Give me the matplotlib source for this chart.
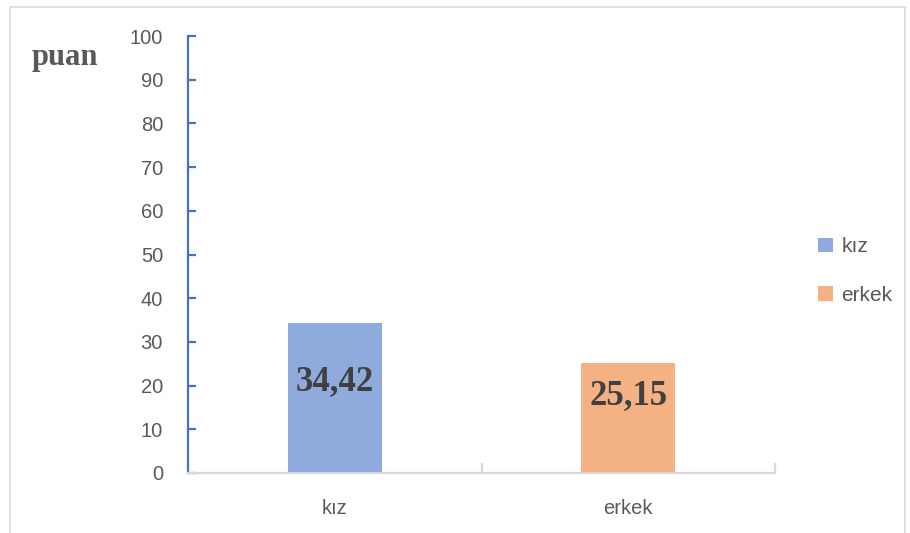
import matplotlib.pyplot as plt
from matplotlib.patches import Rectangle

categories = ["kız", "erkek"]
values = [34.42, 25.15]
value_labels = ["34,42", "25,15"]
label_y = [21.0, 17.6]  # where the value labels sit inside the bars
bar_colors = ["#8FAADC", "#F4B183"]
yticks = [0, 10, 20, 30, 40, 50, 60, 70, 80, 90, 100]

text_gray = "#595959"
axis_blue = "#4472C4"
line_gray = "#D9D9D9"

fig = plt.figure(figsize=(9.1, 5.33), dpi=100)
ax = fig.add_axes((188 / 910, 1 - 473 / 533, (775 - 188) / 910, (473 - 36) / 533))

# light frame round the whole chart
fig.patches.append(Rectangle((10 / 910, -0.02), (905 - 10) / 910, 1 - 7 / 533 + 0.02,
                             transform=fig.transFigure, fill=False,
                             edgecolor=line_gray, linewidth=1.2))

x = list(range(len(categories)))
bars = ax.bar(x, values, width=0.32, color=bar_colors, label=categories, zorder=2)

for xi, txt, yi in zip(x, value_labels, label_y):
    ax.text(xi, yi, txt, ha="center", va="center", fontsize=25,
            fontweight="bold", family="Liberation Serif", color="#404040")

ax.set_xlim(-0.5, 1.5)
ax.set_ylim(0, 100)
ax.set_yticks(yticks)
ax.set_xticks(x)
ax.set_xticklabels(categories)
ax.set_xticks([-0.5, 0.5, 1.5], minor=True)

for s in ["top", "right"]:
    ax.spines[s].set_visible(False)
ax.spines["left"].set_color(axis_blue)
ax.spines["left"].set_linewidth(1.6)
ax.spines["bottom"].set_color(line_gray)
ax.spines["bottom"].set_linewidth(1.6)
ax.spines["bottom"].set_zorder(3)

ax.tick_params(axis="y", direction="in", length=6, width=1.6, color=axis_blue,
               labelcolor=text_gray, labelsize=14.5, pad=18)
ax.tick_params(axis="x", which="major", length=0, labelcolor=text_gray,
               labelsize=14.5, pad=19)
ax.tick_params(axis="x", which="minor", direction="in", length=7, width=1.6,
               color=line_gray)
for lab in ax.get_xticklabels() + ax.get_yticklabels():
    lab.set_family("Liberation Sans")

fig.text(32 / 910, 1 - 57 / 533, "puan", ha="left", va="center", fontsize=22,
         fontweight="bold", family="Liberation Serif", color=text_gray)

leg = ax.legend(loc="center left", bbox_to_anchor=(808 / 910, 1 - 271 / 533),
                bbox_transform=fig.transFigure, frameon=False, handlelength=0.7,
                handleheight=0.7, handletextpad=0.4, labelspacing=1.4,
                borderpad=0, prop={"family": "Liberation Sans", "size": 15})
for t in leg.get_texts():
    t.set_color(text_gray)

fig.savefig("out.png", dpi=100)
